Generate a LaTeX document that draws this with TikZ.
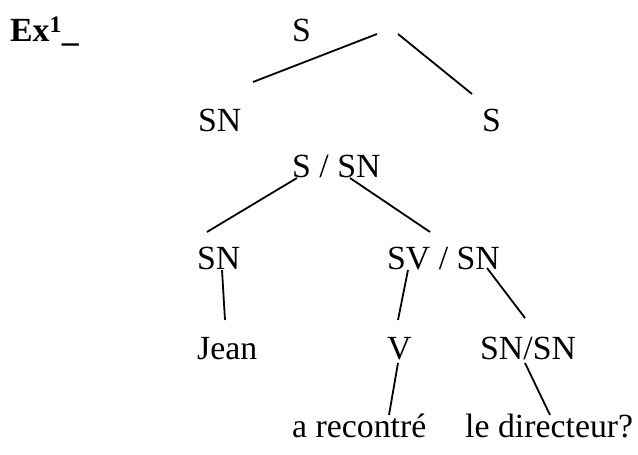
\documentclass[tikz,border=0pt]{standalone}
\usepackage{fontspec}
\setmainfont{Liberation Serif}
\begin{document}
\begin{tikzpicture}[x=1pt, y=1pt,
	lbl/.style={anchor=base west, inner sep=0pt, font=\fontsize{33.8}{40}\selectfont},
	branch/.style={line width=1.8pt}]
	\useasboundingbox (0,0) rectangle (638,455);
	\node[lbl] (ex) at (10,413) {\textbf{Ex\textsuperscript{1}\_}};
	\node[lbl] (top) at (292,413) {S};
	\node[lbl] (sn1) at (198,323) {SN};
	\node[lbl] (s1) at (482,323) {S};
	\node[lbl] (ssn) at (292,277) {S / SN};
	\node[lbl] (sn2) at (197,185) {SN};
	\node[lbl] (svsn) at (387,185) {SV / SN};
	\node[lbl] (jean) at (197,95) {Jean};
	\node[lbl] (v) at (387,95) {V};
	\node[lbl] (snsn) at (480,95) {SN/SN};
	\node[lbl] (arec) at (292,17) {a recontré};
	\node[lbl] (ledir) at (465,17) {le directeur?};
	\draw[branch] ([xshift=55,yshift=50]sn1.base west) -- ([xshift=85,yshift=8]top.base west);
	\draw[branch] ([xshift=106,yshift=8]top.base west) -- ([xshift=-10,yshift=38]s1.base west);
	\draw[branch] ([xshift=5]ssn.base west) -- ([xshift=10,yshift=38]sn2.base west);
	\draw[branch] ([xshift=58]ssn.base west) -- ([xshift=43,yshift=38]svsn.base west);
	\draw[branch] ([xshift=25]sn2.base west) -- ([xshift=28,yshift=40]jean.base west);
	\draw[branch] ([xshift=21]svsn.base west) -- ([xshift=11,yshift=40]v.base west);
	\draw[branch] ([xshift=100,yshift=2]svsn.base west) -- ([xshift=45,yshift=42]snsn.base west);
	\draw[branch] ([xshift=11,yshift=-3]v.base west) -- ([xshift=97,yshift=23]arec.base west);
	\draw[branch] ([xshift=45,yshift=-3]snsn.base west) -- ([xshift=85,yshift=23]ledir.base west);
\end{tikzpicture}
\end{document}
